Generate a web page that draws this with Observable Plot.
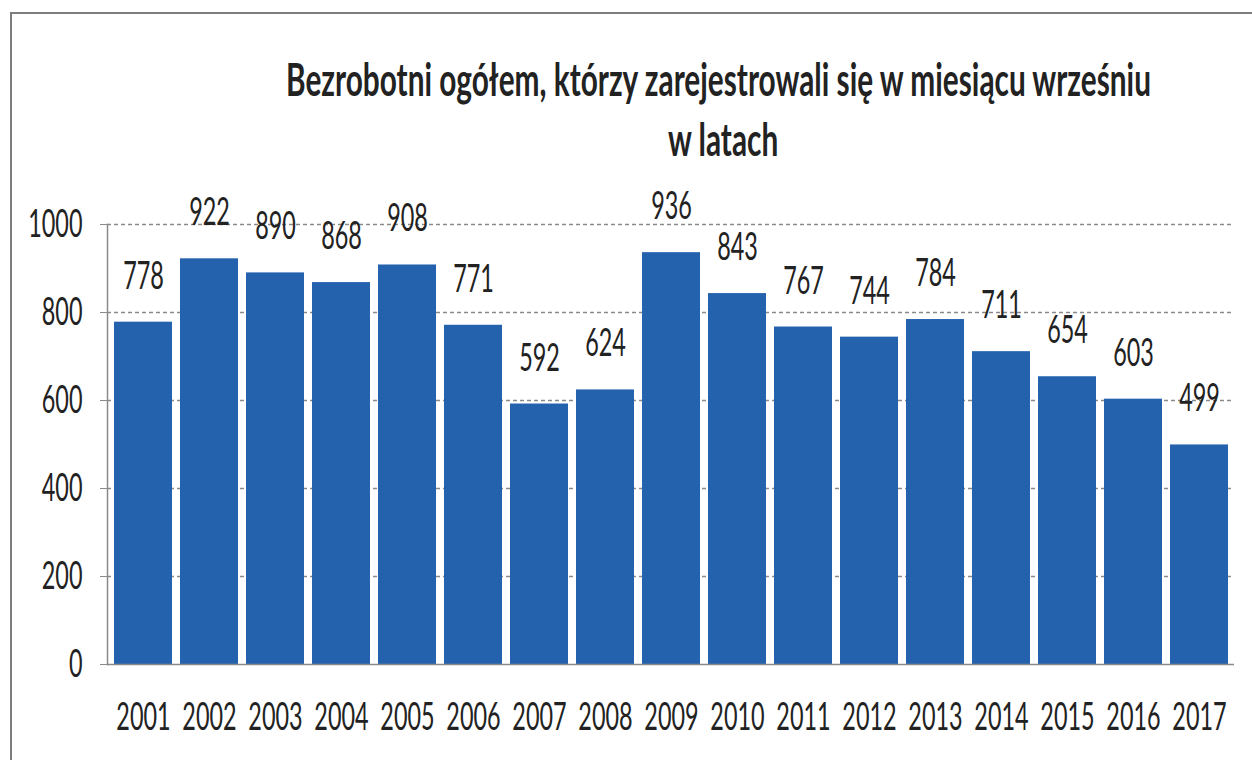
<!DOCTYPE html>
<html><head><meta charset="utf-8">
<script src="https://cdn.jsdelivr.net/npm/d3@7"></script>
<script src="https://cdn.jsdelivr.net/npm/@observablehq/plot@0.6"></script>
<style>
html,body{margin:0;padding:0;overflow:hidden;}
body{background:#fff;width:1252px;height:760px;position:relative;font-family:Lato,"Open Sans",sans-serif;}
#fl{position:absolute;left:10px;top:12px;width:2px;height:748px;background:#7d7d7d;}
#ft{position:absolute;left:10px;top:12px;width:1242px;height:2px;background:#7d7d7d;}
#title{position:absolute;left:0;top:0;width:1252px;height:180px;}
.tl{position:absolute;white-space:nowrap;font-weight:700;font-size:46px;line-height:46px;color:#222;transform-origin:0 0;}
#chart{position:absolute;left:0;top:180px;}
</style>
</head><body>
<div id="fl"></div><div id="ft"></div>
<div id="title">
  <span class="tl" id="t1">Bezrobotni ogółem, którzy zarejestrowali się w miesiącu wrześniu</span>
  <span class="tl" id="t2">w latach</span>
</div>
<div id="chart"></div>
<script>
const years = ["2001","2002","2003","2004","2005","2006","2007","2008","2009","2010","2011","2012","2013","2014","2015","2016","2017"];
const values = [778,922,890,868,908,771,592,624,936,843,767,744,784,711,654,603,499];
const yTicks = [0,200,400,600,800,1000];

const data = years.map((y,i)=>({year:y, value:values[i]}));
const TEXT_SCALE = 0.6;
const FS = 39;

// title layout (horizontal compression like the reference)
const t1 = document.getElementById("t1"), t2 = document.getElementById("t2");
const w1 = t1.getBoundingClientRect().width;
const s = 865 / w1;
const w2 = t2.getBoundingClientRect().width;
t1.style.left = (718 - w1*s/2) + "px";
t1.style.top = "56px";
t1.style.transform = `scaleX(${s})`;
t2.style.left = (723 - w2*s/2) + "px";
t2.style.top = "116px";
t2.style.transform = `scaleX(${s})`;

const chart = Plot.plot({
  width: 1252,
  height: 580,
  marginLeft: 107,
  marginRight: 18,
  marginTop: 44,
  marginBottom: 96,
  style: {fontFamily: "Lato, 'Open Sans', sans-serif", fontSize: FS + "px", color: "#222", background: "transparent"},
  x: {domain: years, paddingInner: 0.125, paddingOuter: 0.0625, label: null},
  y: {domain: [0, 1000], label: null},
  marks: [
    Plot.gridY(yTicks.filter(d => d > 0), {stroke: "#8a8a8a", strokeOpacity: 1, strokeDasharray: "4,3", strokeWidth: 1.6}),
    Plot.barY(data, {x: "year", y: "value", fill: "#2462AE"}),
    Plot.ruleY([0], {stroke: "#8a8a8a", strokeWidth: 1.5}),
    Plot.frame({anchor: "left", stroke: "#8a8a8a", strokeWidth: 1.5}),
    Plot.axisY({ticks: yTicks, tickSize: 7, tickPadding: 18, stroke: "#8a8a8a", fill: "#222", fontSize: FS, label: null, tickFormat: d => String(d)}),
    Plot.axisX({tickSize: 0, tickPadding: 38, fill: "#222", fontSize: FS, label: null}),
    Plot.text(data, {x: "year", y: "value", text: d => String(d.value), dy: -46, fill: "#222", fontSize: FS})
  ]
});
document.getElementById("chart").appendChild(chart);

// compress text horizontally about its anchor
chart.querySelectorAll("text").forEach(t => {
  const tr = t.getAttribute("transform");
  if (tr) {
    t.setAttribute("transform", tr + ` scale(${TEXT_SCALE},1)`);
  } else {
    const x = +(t.getAttribute("x") || 0), y = +(t.getAttribute("y") || 0);
    t.setAttribute("transform", `translate(${x},${y}) scale(${TEXT_SCALE},1) translate(${-x},${-y})`);
  }
});
</script>
</body></html>
